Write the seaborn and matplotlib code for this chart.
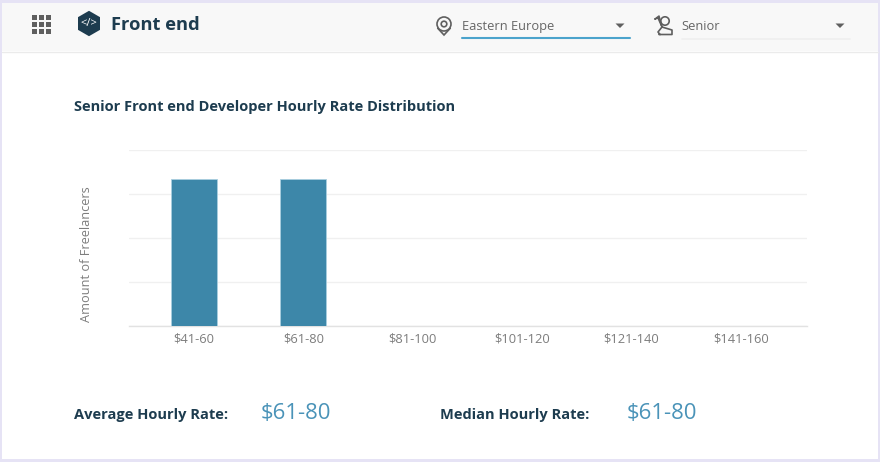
import pandas as pd
import matplotlib.pyplot as plt
import matplotlib.patches as mpatches
import seaborn as sns

# values (y axis has no labels, gridlines taken as 0-4)
rate_bins = ['$41-60', '$61-80', '$81-100', '$101-120', '$121-140', '$141-160']
freelancers = [3.34, 3.34, 0, 0, 0, 0]
grid_ticks = [0, 1, 2, 3, 4]

title = 'Senior Front end Developer Hourly Rate Distribution'
y_label = 'Amount of Freelancers'
page_name = 'Front end'
region = 'Eastern Europe'
level = 'Senior'
average_rate = '$61-80'
median_rate = '$61-80'

DARK = '#1d3c4f'
BAR = '#3d87a9'
TEAL = '#4a93b8'
GREY = '#7d7d7d'
ICON = '#5f5f5f'

sns.set_theme(style='white')
plt.rcParams['font.family'] = ['Open Sans', 'DejaVu Sans']

W, H = 880, 462
fig = plt.figure(figsize=(W / 100, H / 100), dpi=100, facecolor='#e6e3f5')

# page furniture, drawn in pixel coordinates
bg = fig.add_axes([0, 0, 1, 1])
bg.set_xlim(0, W)
bg.set_ylim(H, 0)
bg.axis('off')
bg.add_patch(mpatches.Rectangle((2, 3), 876, 456, fc='white', ec='none'))
bg.add_patch(mpatches.Rectangle((2, 3), 876, 48, fc='#f8f8f8', ec='none'))
bg.plot([2, 878], [51.5, 51.5], color='#ebebeb', lw=1)

# grid menu icon
for gx in [32, 39, 46]:
    for gy in [15, 22, 29]:
        bg.add_patch(mpatches.Rectangle((gx, gy), 5, 5, fc=ICON, ec='none'))

# hexagon logo
bg.add_patch(mpatches.RegularPolygon((89, 23.5), 6, radius=12.7, fc=DARK, ec='none'))
bg.text(89, 24, '</>', color='white', fontsize=8, ha='center', va='center')
bg.text(111, 24.5, page_name, color=DARK, fontsize=13.2, fontweight='bold', ha='left', va='center')

# location pin
bg.add_patch(mpatches.Polygon([(437.5, 28), (444, 35), (450.5, 28)], closed=True, fc='none', ec=ICON, lw=1.2))
bg.add_patch(mpatches.Circle((444, 24), 7, fc='#f8f8f8', ec=ICON, lw=1.2))
bg.add_patch(mpatches.Circle((444, 24), 2.8, fc='#f8f8f8', ec=ICON, lw=1.2))

# person icon
bg.add_patch(mpatches.Circle((665, 21), 4.2, fc='none', ec=ICON, lw=1.2))
bg.plot([655, 659, 662, 658, 655], [19, 16, 27, 18, 19], color=ICON, lw=1.1)
bg.plot([659, 672, 672, 662, 658, 660], [34.5, 34.5, 30, 27, 32, 34.5], color=ICON, lw=1.2)

# dropdowns
bg.text(462, 26.5, region, color='#666666', fontsize=9.25, ha='left', va='center')
bg.text(681.5, 26.5, level, color='#666666', fontsize=9.25, ha='left', va='center')
bg.plot([462, 630], [38, 38], color='#4ba3cc', lw=1.5)
bg.plot([682, 850], [38.5, 38.5], color='#efefef', lw=1.2)
for cx in [620, 840]:
    bg.add_patch(mpatches.Polygon([(cx - 4.5, 23.5), (cx + 4.5, 23.5), (cx, 28)], closed=True, fc=ICON, ec='none'))

# headings
bg.text(74, 107, title, color=DARK, fontsize=10.55, fontweight='bold', ha='left', va='center')
bg.text(74, 415.5, 'Average Hourly Rate:', color=DARK, fontsize=10.5, fontweight='bold', ha='left', va='center')
bg.text(261, 413.5, average_rate, color=TEAL, fontsize=15.9, ha='left', va='center')
bg.text(440, 415.5, 'Median Hourly Rate:', color=DARK, fontsize=10.5, fontweight='bold', ha='left', va='center')
bg.text(627, 413.5, median_rate, color=TEAL, fontsize=15.9, ha='left', va='center')

# chart
ax = fig.add_axes([129 / W, 1 - 326 / H, (807 - 129) / W, (326 - 150) / H])
ax.patch.set_alpha(0)
df = pd.DataFrame({'rate': rate_bins, 'count': freelancers})
sns.barplot(data=df, x='rate', y='count', color=BAR, saturation=1, width=0.42,
            edgecolor='#a9cfe0', linewidth=0.6, ax=ax, zorder=3)
ax.set_xlim(-0.594, 5.604)
ax.set_ylim(0, 4)
ax.set_yticks(grid_ticks)
ax.set_yticklabels([])
ax.grid(axis='y', color='#f0f0f0', lw=1)
ax.set_axisbelow(True)
sns.despine(ax=ax, left=True, top=True, right=True, bottom=False)
ax.spines['bottom'].set_color('#e2e2e2')
ax.spines['bottom'].set_linewidth(1)
ax.tick_params(axis='x', length=0, pad=4.5, labelsize=9.3, labelcolor=GREY)
ax.tick_params(axis='y', length=0)
ax.set_xlabel('')
ax.set_ylabel('')
bg.text(87, 254.5, y_label, color=GREY, fontsize=9.2, rotation=90, ha='center', va='center')

fig.savefig('out.png', dpi=100, facecolor=fig.get_facecolor())
